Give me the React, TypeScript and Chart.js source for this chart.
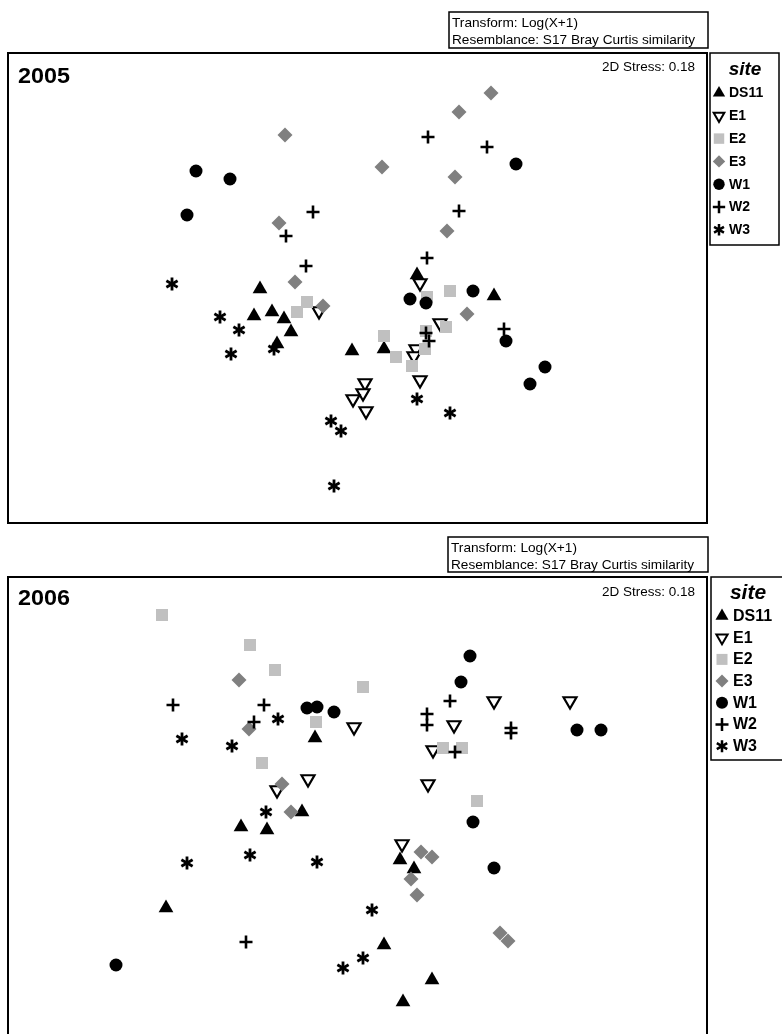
import React, { useEffect, useRef } from 'react';
import { Chart, registerables } from 'chart.js';

Chart.register(...registerables);

// Site groups (legend order)
const SITES = ['DS11', 'E1', 'E2', 'E3', 'W1', 'W2', 'W3'];

// nMDS ordination coordinates, 2005 (x rightwards, y downwards in plot units)
const ds11_2005 = [[252, 236], [246, 263], [264, 259], [276, 266], [283, 279], [269, 291], [344, 298], [376, 296], [409, 222], [486, 243]];
const e1_2005 = [[311, 258], [412, 230], [432, 270], [408, 296], [406, 303], [412, 327], [357, 330], [355, 340], [345, 346], [358, 358]];
const e2_2005 = [[299, 249], [289, 259], [419, 244], [442, 238], [438, 274], [376, 283], [388, 304], [417, 296], [404, 313], [418, 278]];
const e3_2005 = [[277, 82], [271, 170], [287, 229], [315, 253], [483, 40], [451, 59], [374, 114], [447, 124], [439, 178], [459, 261]];
const w1_2005 = [[188, 118], [222, 126], [179, 162], [508, 111], [402, 246], [418, 250], [465, 238], [498, 288], [537, 314], [522, 331]];
const w2_2005 = [[305, 159], [278, 183], [298, 213], [420, 84], [479, 94], [451, 158], [419, 205], [496, 276], [418, 280], [421, 288]];
const w3_2005 = [[164, 231], [212, 264], [231, 277], [266, 296], [223, 301], [323, 368], [333, 378], [326, 433], [409, 346], [442, 360]];

// nMDS ordination coordinates, 2006
const ds11_2006 = [[307, 161], [294, 235], [233, 250], [259, 253], [158, 331], [392, 283], [406, 292], [376, 368], [424, 403], [395, 425]];
const e1_2006 = [[346, 150], [486, 124], [562, 124], [446, 148], [425, 173], [420, 207], [300, 202], [269, 213], [394, 267]];
const e2_2006 = [[154, 38], [242, 68], [267, 93], [355, 110], [308, 145], [254, 186], [435, 171], [454, 171], [469, 224]];
const e3_2006 = [[231, 103], [241, 152], [274, 207], [283, 235], [413, 275], [424, 280], [403, 302], [409, 318], [492, 356], [500, 364]];
const w1_2006 = [[462, 79], [453, 105], [299, 131], [309, 130], [326, 135], [569, 153], [593, 153], [465, 245], [486, 291], [108, 388]];
const w2_2006 = [[165, 128], [256, 128], [246, 145], [442, 124], [419, 137], [419, 148], [503, 151], [503, 156], [447, 175], [238, 365]];
const w3_2006 = [[174, 162], [224, 169], [270, 142], [258, 235], [242, 278], [179, 286], [309, 285], [364, 333], [355, 381], [335, 391]];

const DATA_2005 = [ds11_2005, e1_2005, e2_2005, e3_2005, w1_2005, w2_2005, w3_2005];
const DATA_2006 = [ds11_2006, e1_2006, e2_2006, e3_2006, w1_2006, w2_2006, w3_2006];

const TRANSFORM_LINE = 'Transform: Log(X+1)';
const RESEMBLANCE_LINE = 'Resemblance: S17 Bray Curtis similarity';
const STRESS_LABEL = '2D Stress: 0.18';
const LEGEND_TITLE = 'site';

const FONT = "'Liberation Sans', Arial, Helvetica, sans-serif";
const LIGHT = '#c0c0c0';
const MID = '#808080';

function makeAsterisk(size: number, arm: number, lw: number): HTMLCanvasElement {
  const c = document.createElement('canvas');
  c.width = size;
  c.height = size;
  const g = c.getContext('2d')!;
  g.strokeStyle = '#000';
  g.lineWidth = lw;
  g.lineCap = 'butt';
  const cx = size / 2, cy = size / 2;
  [90, 30, -30].forEach((deg) => {
    const r = (deg * Math.PI) / 180;
    const dx = Math.cos(r) * arm, dy = Math.sin(r) * arm;
    g.beginPath();
    g.moveTo(cx - dx, cy - dy);
    g.lineTo(cx + dx, cy + dy);
    g.stroke();
  });
  return c;
}

function styleFor(site: string, ast: HTMLCanvasElement) {
  switch (site) {
    case 'DS11':
      return { pointStyle: 'triangle', rotation: 0, radius: 8.5, bg: '#000', border: '#000', bw: 0 };
    case 'E1':
      return { pointStyle: 'triangle', rotation: 180, radius: 7.5, bg: '#fff', border: '#000', bw: 2.2 };
    case 'E2':
      return { pointStyle: 'rect', rotation: 0, radius: 8.5, bg: LIGHT, border: LIGHT, bw: 0 };
    case 'E3':
      return { pointStyle: 'rectRot', rotation: 0, radius: 7.5, bg: MID, border: MID, bw: 0 };
    case 'W1':
      return { pointStyle: 'circle', rotation: 0, radius: 6.5, bg: '#000', border: '#000', bw: 0 };
    case 'W2':
      return { pointStyle: 'cross', rotation: 0, radius: 6.5, bg: '#000', border: '#000', bw: 2.6 };
    default:
      return { pointStyle: ast, rotation: 0, radius: 6, bg: '#000', border: '#000', bw: 0 };
  }
}

function drawMarker(ctx: CanvasRenderingContext2D, site: string, x: number, y: number, s: number) {
  ctx.save();
  ctx.fillStyle = '#000';
  ctx.strokeStyle = '#000';
  ctx.beginPath();
  if (site === 'DS11') {
    const r = 7.5 * s;
    ctx.moveTo(x, y - r);
    ctx.lineTo(x + r * 0.866, y + r * 0.5);
    ctx.lineTo(x - r * 0.866, y + r * 0.5);
    ctx.closePath();
    ctx.fill();
  } else if (site === 'E1') {
    const r = 6.5 * s;
    ctx.lineWidth = 2;
    ctx.moveTo(x, y + r);
    ctx.lineTo(x + r * 0.866, y - r * 0.5);
    ctx.lineTo(x - r * 0.866, y - r * 0.5);
    ctx.closePath();
    ctx.stroke();
  } else if (site === 'E2') {
    const h = 5.5 * s;
    ctx.fillStyle = LIGHT;
    ctx.fillRect(x - h, y - h, 2 * h, 2 * h);
  } else if (site === 'E3') {
    const r = 6.5 * s;
    ctx.fillStyle = MID;
    ctx.moveTo(x - r, y);
    ctx.lineTo(x, y - r);
    ctx.lineTo(x + r, y);
    ctx.lineTo(x, y + r);
    ctx.closePath();
    ctx.fill();
  } else if (site === 'W1') {
    ctx.arc(x, y, 6 * s, 0, Math.PI * 2);
    ctx.fill();
  } else if (site === 'W2') {
    const r = 6.5 * s;
    ctx.lineWidth = 2.5;
    ctx.moveTo(x - r, y);
    ctx.lineTo(x + r, y);
    ctx.moveTo(x, y - r);
    ctx.lineTo(x, y + r);
    ctx.stroke();
  } else {
    const r = 6 * s;
    ctx.lineWidth = 2.5;
    [90, 30, -30].forEach((deg) => {
      const a = (deg * Math.PI) / 180;
      ctx.moveTo(x - Math.cos(a) * r, y - Math.sin(a) * r);
      ctx.lineTo(x + Math.cos(a) * r, y + Math.sin(a) * r);
    });
    ctx.stroke();
  }
  ctx.restore();
}

function fitText(ctx: CanvasRenderingContext2D, text: string, left: number, y: number, font: string, width: number) {
  ctx.save();
  ctx.font = font;
  ctx.textAlign = 'left';
  ctx.textBaseline = 'middle';
  const w = ctx.measureText(text).width;
  ctx.translate(left, y);
  ctx.scale(width / w, 1);
  ctx.fillText(text, 0, 0);
  ctx.restore();
}

type PanelCfg = {
  title: string;
  width: number;
  height: number;
  padding: { left: number; top: number; right: number; bottom: number };
  yMax: number;
  boxBottomExtra: number;
  tBox: { left: number; top: number; w: number; h: number; y1: number; y2: number };
  titleY: number;
  stressY: number;
  legend: {
    left: number; top: number; right: number; bottom: number;
    titleX: number; titleY: number; titleFont: string;
    rowY0: number; rowStep: number; markerX: number; textX: number; font: string; scale: number;
  };
};

const TOP_PANEL: PanelCfg = {
  title: '2005',
  width: 782,
  height: 530,
  padding: { left: 8, top: 53, right: 75, bottom: 7 },
  yMax: 470,
  boxBottomExtra: 0,
  tBox: { left: 449, top: 12, w: 259, h: 36, y1: 23.5, y2: 40 },
  titleY: 77,
  stressY: 68,
  legend: {
    left: 710, top: 53, right: 779, bottom: 245,
    titleX: 745, titleY: 70, titleFont: `italic bold 19px ${FONT}`,
    rowY0: 93, rowStep: 22.8, markerX: 719, textX: 729, font: `bold 14px ${FONT}`, scale: 0.95,
  },
};

const BOTTOM_PANEL: PanelCfg = {
  title: '2006',
  width: 782,
  height: 504,
  padding: { left: 8, top: 47, right: 75, bottom: 0 },
  yMax: 457,
  boxBottomExtra: 30,
  tBox: { left: 448, top: 7, w: 260, h: 35, y1: 18.5, y2: 35 },
  titleY: 68.5,
  stressY: 63,
  legend: {
    left: 711, top: 47, right: 800, bottom: 230,
    titleX: 748, titleY: 63, titleFont: `italic bold 21px ${FONT}`,
    rowY0: 86, rowStep: 21.7, markerX: 722, textX: 733, font: `bold 16px ${FONT}`, scale: 1,
  },
};

function decorPlugin(p: PanelCfg) {
  return {
    id: 'decor' + p.title,
    afterDraw(chart: any) {
      const ctx: CanvasRenderingContext2D = chart.ctx;
      const a = chart.chartArea;
      ctx.save();
      // plot frame
      ctx.strokeStyle = '#000';
      ctx.lineWidth = 2;
      ctx.strokeRect(a.left, a.top, a.right - a.left, a.bottom - a.top + p.boxBottomExtra);
      // transform / resemblance box
      ctx.lineWidth = 1.5;
      ctx.strokeRect(p.tBox.left, p.tBox.top, p.tBox.w, p.tBox.h);
      ctx.fillStyle = '#000';
      fitText(ctx, TRANSFORM_LINE, p.tBox.left + 3, p.tBox.y1, `13px ${FONT}`, 126);
      fitText(ctx, RESEMBLANCE_LINE, p.tBox.left + 3, p.tBox.y2, `13px ${FONT}`, 243);
      // year title
      fitText(ctx, p.title, 18, p.titleY, `bold 22px ${FONT}`, 52);
      // stress
      fitText(ctx, STRESS_LABEL, 695 - 93, p.stressY, `12px ${FONT}`, 93);
      // legend box
      const L = p.legend;
      ctx.lineWidth = 1.5;
      ctx.strokeStyle = '#000';
      ctx.strokeRect(L.left, L.top, L.right - L.left, L.bottom - L.top);
      ctx.font = L.titleFont;
      ctx.textAlign = 'center';
      ctx.textBaseline = 'middle';
      ctx.fillText(LEGEND_TITLE, L.titleX, L.titleY);
      SITES.forEach((s, i) => {
        const y = L.rowY0 + i * L.rowStep;
        drawMarker(ctx, s, L.markerX, y, L.scale);
        ctx.font = L.font;
        ctx.textAlign = 'left';
        ctx.textBaseline = 'middle';
        ctx.fillStyle = '#000';
        ctx.fillText(s, L.textX, y + 0.5);
      });
      ctx.restore();
    },
  };
}

function buildChart(canvas: HTMLCanvasElement, p: PanelCfg, data: number[][][]) {
  const ast = makeAsterisk(16, 6.5, 2.8);
  const datasets = SITES.map((site, i) => {
    const st = styleFor(site, ast);
    return {
      label: site,
      data: data[i].map(([x, y]) => ({ x, y })),
      order: SITES.length - i,
      pointStyle: st.pointStyle as any,
      rotation: st.rotation,
      pointRadius: st.radius,
      pointHoverRadius: st.radius,
      pointBackgroundColor: st.bg,
      pointBorderColor: st.border,
      pointBorderWidth: st.bw,
      pointHoverBorderWidth: st.bw,
      showLine: false,
    };
  });
  return new Chart(canvas, {
    type: 'scatter',
    data: { datasets },
    options: {
      responsive: false,
      animation: false,
      events: [],
      layout: { padding: p.padding, autoPadding: false },
      scales: {
        x: { type: 'linear', min: 0, max: 699, display: false },
        y: { type: 'linear', min: 0, max: p.yMax, reverse: true, display: false },
      },
      plugins: {
        legend: { display: false },
        tooltip: { enabled: false },
        title: { display: false },
      },
    },
    plugins: [decorPlugin(p)],
  });
}

function Panel({ p, data, top }: { p: PanelCfg; data: number[][][]; top: number }) {
  const ref = useRef<HTMLCanvasElement | null>(null);
  useEffect(() => {
    if (!ref.current) return;
    const chart = buildChart(ref.current, p, data);
    return () => chart.destroy();
  }, []);
  return (
    <canvas
      ref={ref}
      width={p.width}
      height={p.height}
      style={{ position: 'absolute', left: 0, top, width: p.width, height: p.height, display: 'block' }}
    />
  );
}

export default function App() {
  return (
    <div style={{ position: 'absolute', left: 0, top: 0, width: 782, height: 1034, background: '#fff', overflow: 'hidden' }}>
      <Panel p={TOP_PANEL} data={DATA_2005} top={0} />
      <Panel p={BOTTOM_PANEL} data={DATA_2006} top={530} />
    </div>
  );
}
